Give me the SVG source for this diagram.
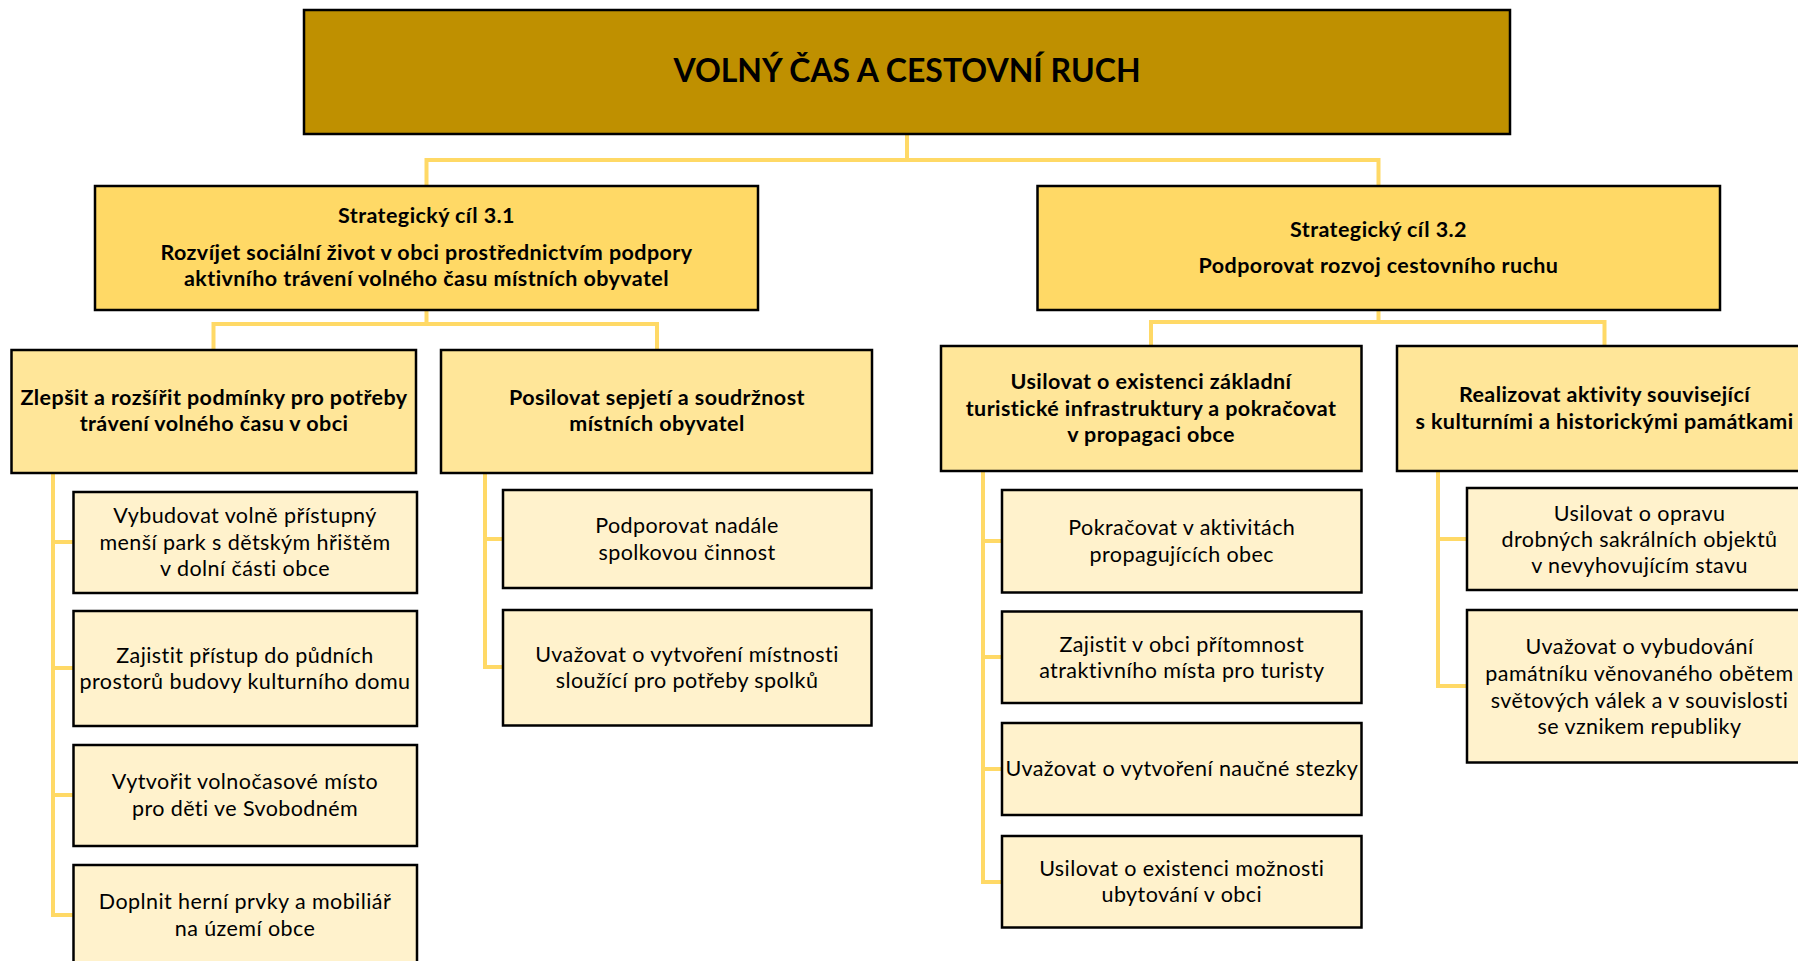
<svg xmlns="http://www.w3.org/2000/svg" width="1798" height="961" viewBox="0 0 1798 961">
<style>
  .box { stroke: #000; stroke-width: 2.5; }
  .top { fill: #BF9000; }
  .sc { fill: #FFD966; }
  .l2 { fill: #FFE699; }
  .l3 { fill: #FFF2CC; }
  text { font-family: Lato, "Liberation Sans", sans-serif; fill: #000; text-anchor: middle; }
  .t-title { font-size: 32px; font-weight: bold; }
  .t-b { font-size: 21.5px; font-weight: bold; letter-spacing: 0.42px; }
  .t-r { font-size: 21.5px; letter-spacing: 0.42px; }
  .conn { fill: none; stroke: #FFD966; stroke-width: 4; }
</style>
<rect width="1798" height="961" fill="#FFFFFF"/>
<g id="connectors" class="conn">
  <path d="M907 134 V160 H426.5 V186"/>
  <path d="M907 160 H1378.5 V186"/>
  <path d="M426.5 310 V324 H213.5 V350"/>
  <path d="M426.5 324 H657 V350"/>
  <path d="M1378.5 310 V322 H1151 V346"/>
  <path d="M1378.5 322 H1604.5 V346"/>
  <path d="M53 473 V915 H74"/>
  <path d="M53 542 H74 M53 668 H74 M53 795 H74"/>
  <path d="M485 473 V667 H503"/>
  <path d="M485 539 H503"/>
  <path d="M983 471 V882 H1002"/>
  <path d="M983 541 H1002 M983 657 H1002 M983 769 H1002"/>
  <path d="M1438 471 V686 H1467"/>
  <path d="M1438 539 H1467"/>
</g>
<g id="root">
  <rect class="box top" x="304" y="10" width="1206" height="124"/>
  <text class="t-title" x="907" y="82">VOLNÝ ČAS A CESTOVNÍ RUCH</text>
</g>
<g id="sc31">
  <rect class="box sc" x="95" y="186" width="663" height="124"/>
  <text class="t-b" x="426.5" y="223">Strategický cíl 3.1</text>
  <text class="t-b" x="426.5" y="260">Rozvíjet sociální život v obci prostřednictvím podpory</text>
  <text class="t-b" x="426.5" y="286">aktivního trávení volného času místních obyvatel</text>
</g>
<g id="sc32">
  <rect class="box sc" x="1037.5" y="186" width="682.5" height="124"/>
  <text class="t-b" x="1378.5" y="237">Strategický cíl 3.2</text>
  <text class="t-b" x="1378.5" y="273">Podporovat rozvoj cestovního ruchu</text>
</g>
<g id="goal-a">
  <rect class="box l2" x="11.5" y="350" width="404.5" height="123"/>
  <text class="t-b" x="214" y="405">Zlepšit a rozšířit podmínky pro potřeby</text>
  <text class="t-b" x="214" y="431">trávení volného času v obci</text>
</g>
<g id="goal-b">
  <rect class="box l2" x="441" y="350" width="431" height="123"/>
  <text class="t-b" x="657" y="405">Posilovat sepjetí a soudržnost</text>
  <text class="t-b" x="657" y="431">místních obyvatel</text>
</g>
<g id="goal-c">
  <rect class="box l2" x="941" y="346" width="420.5" height="125"/>
  <text class="t-b" x="1151" y="389">Usilovat o existenci základní</text>
  <text class="t-b" x="1151" y="415.5">turistické infrastruktury a pokračovat</text>
  <text class="t-b" x="1151" y="442">v propagaci obce</text>
</g>
<g id="goal-d">
  <rect class="box l2" x="1397" y="346" width="420" height="125"/>
  <text class="t-b" x="1604.5" y="402">Realizovat aktivity související</text>
  <text class="t-b" x="1604.5" y="429">s kulturními a historickými památkami</text>
</g>
<g id="a1">
  <rect class="box l3" x="73.5" y="492" width="343.5" height="101"/>
  <text class="t-r" x="245" y="523">Vybudovat volně přístupný</text>
  <text class="t-r" x="245" y="550">menší park s dětským hřištěm</text>
  <text class="t-r" x="245" y="576">v dolní části obce</text>
</g>
<g id="a2">
  <rect class="box l3" x="73.5" y="611" width="343.5" height="115"/>
  <text class="t-r" x="245" y="663">Zajistit přístup do půdních</text>
  <text class="t-r" x="245" y="689">prostorů budovy kulturního domu</text>
</g>
<g id="a3">
  <rect class="box l3" x="73.5" y="745" width="343.5" height="101"/>
  <text class="t-r" x="245" y="789">Vytvořit volnočasové místo</text>
  <text class="t-r" x="245" y="816">pro děti ve Svobodném</text>
</g>
<g id="a4">
  <rect class="box l3" x="73.5" y="865" width="343.5" height="102"/>
  <text class="t-r" x="245" y="909">Doplnit herní prvky a mobiliář</text>
  <text class="t-r" x="245" y="936">na území obce</text>
</g>
<g id="b1">
  <rect class="box l3" x="503" y="490" width="368.5" height="98"/>
  <text class="t-r" x="687" y="533">Podporovat nadále</text>
  <text class="t-r" x="687" y="560">spolkovou činnost</text>
</g>
<g id="b2">
  <rect class="box l3" x="503" y="610" width="368.5" height="115.5"/>
  <text class="t-r" x="687" y="662">Uvažovat o vytvoření místnosti</text>
  <text class="t-r" x="687" y="688">sloužící pro potřeby spolků</text>
</g>
<g id="c1">
  <rect class="box l3" x="1002" y="490" width="359.5" height="102.5"/>
  <text class="t-r" x="1181.8" y="535">Pokračovat v aktivitách</text>
  <text class="t-r" x="1181.8" y="562">propagujících obec</text>
</g>
<g id="c2">
  <rect class="box l3" x="1002" y="611.5" width="359.5" height="91.5"/>
  <text class="t-r" x="1181.8" y="652">Zajistit v obci přítomnost</text>
  <text class="t-r" x="1181.8" y="678">atraktivního místa pro turisty</text>
</g>
<g id="c3">
  <rect class="box l3" x="1002" y="723" width="359.5" height="92"/>
  <text class="t-r" x="1181.8" y="776">Uvažovat o vytvoření naučné stezky</text>
</g>
<g id="c4">
  <rect class="box l3" x="1002" y="836" width="359.5" height="91.5"/>
  <text class="t-r" x="1181.8" y="876">Usilovat o existenci možnosti</text>
  <text class="t-r" x="1181.8" y="902">ubytování v obci</text>
</g>
<g id="d1">
  <rect class="box l3" x="1467" y="488" width="350" height="102"/>
  <text class="t-r" x="1639.5" y="521">Usilovat o opravu</text>
  <text class="t-r" x="1639.5" y="547">drobných sakrálních objektů</text>
  <text class="t-r" x="1639.5" y="573">v nevyhovujícím stavu</text>
</g>
<g id="d2">
  <rect class="box l3" x="1467" y="610" width="350" height="152.5"/>
  <text class="t-r" x="1639.5" y="654">Uvažovat o vybudování</text>
  <text class="t-r" x="1639.5" y="681">památníku věnovaného obětem</text>
  <text class="t-r" x="1639.5" y="708">světových válek a v souvislosti</text>
  <text class="t-r" x="1639.5" y="734">se vznikem republiky</text>
</g>
</svg>
